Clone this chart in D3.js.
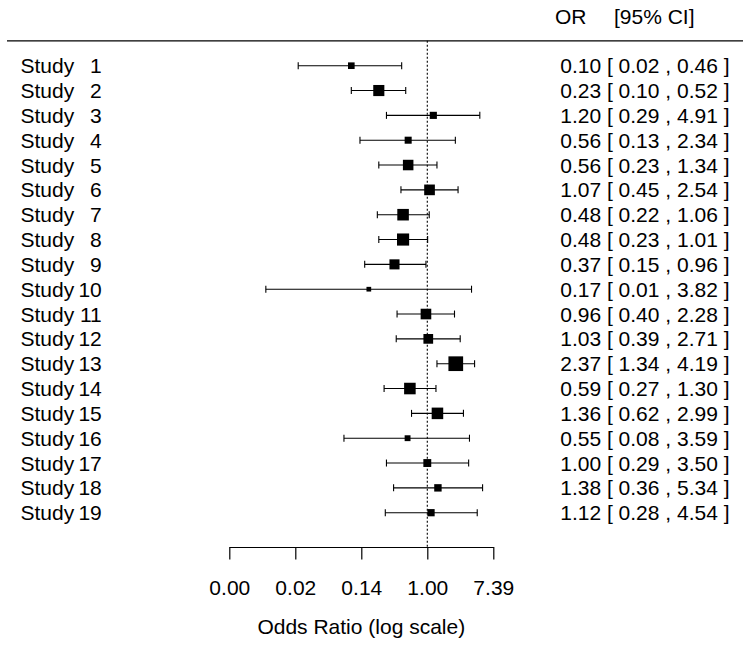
<!DOCTYPE html>
<html>
<head>
<meta charset="utf-8">
<script src="https://cdn.jsdelivr.net/npm/d3@7/dist/d3.min.js"></script>
<style>
  html, body { margin: 0; padding: 0; background: #fff; }
  svg { display: block; }
  text { font-family: "Liberation Sans", Arial, Helvetica, sans-serif; fill: #000; }
</style>
</head>
<body>
<svg id="chart" width="751" height="646"></svg>
<script>
// ---- data ----
const studies = ["Study 1","Study 2","Study 3","Study 4","Study 5","Study 6","Study 7","Study 8","Study 9","Study 10",
                 "Study 11","Study 12","Study 13","Study 14","Study 15","Study 16","Study 17","Study 18","Study 19"];
const oddsRatio = [0.10,0.23,1.20,0.56,0.56,1.07,0.48,0.48,0.37,0.17,0.96,1.03,2.37,0.59,1.36,0.55,1.00,1.38,1.12];
const ciLower   = [0.02,0.10,0.29,0.13,0.23,0.45,0.22,0.23,0.15,0.0075,0.40,0.39,1.34,0.27,0.62,0.08,0.29,0.36,0.28];
const ciUpper   = [0.46,0.52,4.91,2.34,1.34,2.54,1.06,1.01,0.96,3.82,2.28,2.71,4.19,1.30,2.99,3.59,3.50,5.34,4.54];
const weightPct = [2.60,6.95,3.10,2.99,6.37,6.53,7.38,7.94,5.94,0.73,6.48,5.59,10.43,7.38,7.37,1.85,3.82,3.36,3.18];
const tickLogValues = [-6,-4,-2,0,2];
const headerLeft = "OR";
const headerRight = "[95% CI]";
const axisTitle = "Odds Ratio (log scale)";

// ---- layout ----
const svg = d3.select("#chart");
const FS = 21;

const x = d3.scaleLinear().domain([-6, 2]).range([229.3, 493.3]);
const y = d3.scaleLinear().domain([1, studies.length]).range([65.7, 512.7]);
const size = d3.scaleLinear().domain(d3.extent(weightPct)).range([4.7, 14.7]);

const axisY = 547;
const lineY = y(0);   // header separator row
const headerY = y(-1);

// header separator
svg.append("line")
  .attr("x1", 7).attr("x2", 743)
  .attr("y1", lineY).attr("y2", lineY)
  .attr("stroke", "#000").attr("stroke-width", 1.2);

// header text
svg.append("text")
  .attr("x", 555).attr("y", headerY)
  .attr("dy", "0.36em")
  .style("font-size", FS + "px")
  .text(headerLeft);
svg.append("text")
  .attr("x", 694.5).attr("y", headerY)
  .attr("dy", "0.36em")
  .attr("text-anchor", "end")
  .style("font-size", FS + "px")
  .text(headerRight);

// reference line at OR = 1
svg.append("line")
  .attr("x1", x(0)).attr("x2", x(0))
  .attr("y1", lineY).attr("y2", axisY)
  .attr("stroke", "#000").attr("stroke-width", 1.1)
  .attr("stroke-dasharray", "2,2");

const rows = svg.append("g").selectAll("g")
  .data(studies.map((s, i) => ({
    label: s, est: oddsRatio[i], lo: ciLower[i], hi: ciUpper[i], w: weightPct[i], row: i + 1
  })))
  .join("g");

// study labels: word + right-aligned number
rows.append("text")
  .attr("x", 20.5).attr("y", d => y(d.row)).attr("dy", "0.36em")
  .style("font-size", FS + "px")
  .text(d => d.label.split(" ")[0]);
rows.append("text")
  .attr("x", 101.8).attr("y", d => y(d.row)).attr("dy", "0.36em")
  .attr("text-anchor", "end")
  .style("font-size", FS + "px")
  .text(d => d.label.split(" ")[1]);

// CI lines
rows.append("line")
  .attr("x1", d => x(Math.log(d.lo))).attr("x2", d => x(Math.log(d.hi)))
  .attr("y1", d => y(d.row)).attr("y2", d => y(d.row))
  .attr("stroke", "#000").attr("stroke-width", 1.1);
// caps
const capH = 3.5;
rows.append("line")
  .attr("x1", d => x(Math.log(d.lo))).attr("x2", d => x(Math.log(d.lo)))
  .attr("y1", d => y(d.row) - capH).attr("y2", d => y(d.row) + capH)
  .attr("stroke", "#000").attr("stroke-width", 1.1);
rows.append("line")
  .attr("x1", d => x(Math.log(d.hi))).attr("x2", d => x(Math.log(d.hi)))
  .attr("y1", d => y(d.row) - capH).attr("y2", d => y(d.row) + capH)
  .attr("stroke", "#000").attr("stroke-width", 1.1);
// squares
rows.append("rect")
  .attr("x", d => x(Math.log(d.est)) - size(d.w) / 2)
  .attr("y", d => y(d.row) - size(d.w) / 2)
  .attr("width", d => size(d.w)).attr("height", d => size(d.w))
  .attr("fill", "#000");

// annotations
const f2 = d3.format(".2f");
rows.append("text")
  .attr("x", 729.5).attr("y", d => y(d.row)).attr("dy", "0.36em")
  .attr("text-anchor", "end")
  .style("font-size", FS + "px")
  .style("white-space", "pre")
  .text(d => `${f2(d.est)} [ ${f2(d.lo)} , ${f2(d.hi)} ]`);

// x axis
const axis = d3.axisBottom(x)
  .tickValues(tickLogValues)
  .tickFormat(d => f2(Math.exp(d)))
  .tickSizeInner(12.5).tickSizeOuter(0).tickPadding(21);
const gAxis = svg.append("g").attr("transform", `translate(0,${axisY})`).call(axis);
gAxis.select(".domain").attr("stroke", "#000").attr("stroke-width", 1.2);
gAxis.selectAll(".tick line").attr("stroke", "#000").attr("stroke-width", 1.2);
gAxis.selectAll(".tick text")
  .style("font-size", FS + "px")
  .style("font-family", '"Liberation Sans", Arial, sans-serif')
  .attr("fill", "#000");

// axis title
svg.append("text")
  .attr("x", x(-2)).attr("y", 634)
  .attr("text-anchor", "middle")
  .style("font-size", FS + "px")
  .text(axisTitle);
</script>
</body>
</html>
